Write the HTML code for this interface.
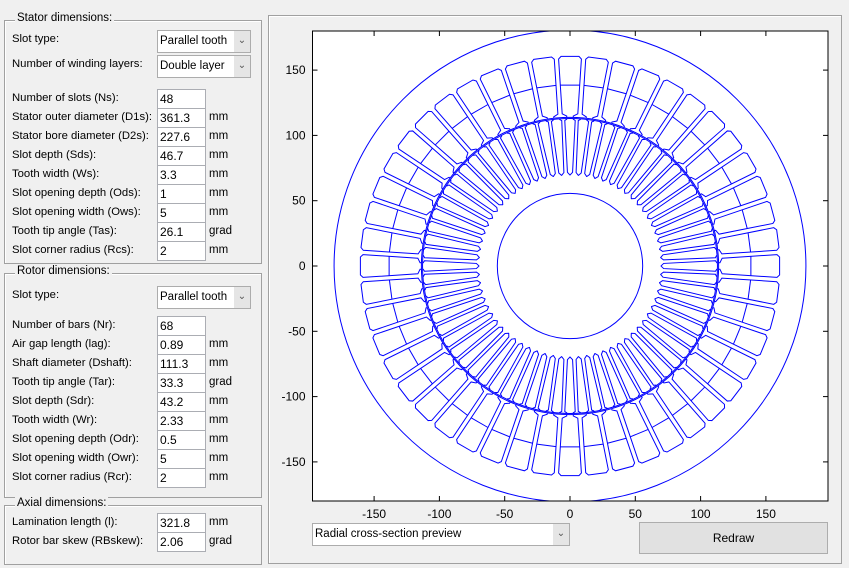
<!DOCTYPE html>
<html><head><meta charset="utf-8"><style>
body{margin:0;width:849px;height:568px;background:#f0f0f0;font-family:"Liberation Sans",sans-serif;font-size:12px;color:#000;position:relative;overflow:hidden}
.grp{position:absolute;border:1px solid #a0a0a0;box-shadow:1px 1px 0 #fff inset}
.gt{position:absolute;background:#f0f0f0;padding:0 2px;font-size:11.5px}
.lb{position:absolute;left:12px;white-space:nowrap;font-size:11.3px}
.ed{position:absolute;left:157px;width:45px;height:18px;background:#fff;border:1px solid #abadb3;box-sizing:content-box;padding-left:2px;line-height:18px;font-size:12px}
.un{position:absolute;left:209px;font-size:11.5px}
.dd{position:absolute;background:#fff;border:1px solid #acacac;line-height:20px;padding-left:2px;font-size:11.5px}
.dd .ar{position:absolute;right:0;top:0;width:16px;height:100%;background:#e5e5e5;text-align:center;color:#555;font-size:10px}
</style></head><body>
<svg id="plot" width="849" height="568" style="position:absolute;left:0;top:0"></svg>
<div class="grp" style="left:4px;top:20px;width:256px;height:242px"></div>
<div class="gt" style="left:15px;top:12px">Stator dimensions:</div>
<div class="grp" style="left:4px;top:273px;width:256px;height:223px"></div>
<div class="gt" style="left:15px;top:265px">Rotor dimensions:</div>
<div class="grp" style="left:4px;top:505px;width:256px;height:58px"></div>
<div class="gt" style="left:15px;top:497px">Axial dimensions:</div>
<div class="grp" style="left:268px;top:15px;width:572px;height:547px"></div>
<div id="form"></div>
<div class="dd" style="left:312px;top:523px;width:254px;height:21px">Radial cross-section preview<span class="ar">&#8964;</span></div>
<div style="position:absolute;left:639px;top:522px;width:187px;height:30px;background:#e1e1e1;border:1px solid #adadad;text-align:center;line-height:30px">Redraw</div>
<script>
const rows=[
["dd","Slot type:","Parallel tooth",30,""],
["dd","Number of winding layers:","Double layer",55,""],
["ed","Number of slots (Ns):","48",89,""],
["ed","Stator outer diameter (D1s):","361.3",108,"mm"],
["ed","Stator bore diameter (D2s):","227.6",127,"mm"],
["ed","Slot depth (Sds):","46.7",146,"mm"],
["ed","Tooth width (Ws):","3.3",165,"mm"],
["ed","Slot opening depth (Ods):","1",184,"mm"],
["ed","Slot opening width (Ows):","5",203,"mm"],
["ed","Tooth tip angle (Tas):","26.1",222,"grad"],
["ed","Slot corner radius (Rcs):","2",241,"mm"],
["dd","Slot type:","Parallel tooth",286,""],
["ed","Number of bars (Nr):","68",316,""],
["ed","Air gap length (lag):","0.89",335,"mm"],
["ed","Shaft diameter (Dshaft):","111.3",354,"mm"],
["ed","Tooth tip angle (Tar):","33.3",373,"grad"],
["ed","Slot depth (Sdr):","43.2",392,"mm"],
["ed","Tooth width (Wr):","2.33",411,"mm"],
["ed","Slot opening depth (Odr):","0.5",430,"mm"],
["ed","Slot opening width (Owr):","5",449,"mm"],
["ed","Slot corner radius (Rcr):","2",468,"mm"],
["ed","Lamination length (l):","321.8",513,"mm"],
["ed","Rotor bar skew (RBskew):","2.06",532,"grad"]];
const f=document.getElementById('form');
rows.forEach((r,i)=>{
 const l=document.createElement('div');l.className='lb';l.style.top=(r[3]+3)+'px';l.textContent=r[1];
 
 f.appendChild(l);
 const e=document.createElement('div');
 if(r[0]=='dd'){e.className='dd';e.style.left='157px';e.style.top=r[3]+'px';e.style.width='90px';e.style.height='21px';e.innerHTML=r[2]+'<span class="ar">&#8964;</span>';}
 else{e.className='ed';e.style.top=r[3]+'px';e.textContent=r[2];
  if(r[4]){const u=document.createElement('div');u.className='un';u.style.top=(r[3]+3)+'px';u.textContent=r[4];
  
  f.appendChild(u);}}
 
 
 f.appendChild(e);
});
const statorParams=[48,361.3,227.6,46.7,3.3,1,5,26.1];
const rotorParams=[68,0.89,111.3,33.3,43.2,2.33,0.5,5];
const xTicks=[-150,-100,-50,0,50,100,150];
const yTicks=[-150,-100,-50,0,50,100,150];
const X0=312.5,X1=828,Y0=31,Y1=501,cx=570,cy=266,sc=1.306;
const sx=v=>cx+v*sc, sy=v=>cy-v*sc;
const svg=document.getElementById('plot');const NS='http://www.w3.org/2000/svg';
function add(tag,at,name,parent){const e=document.createElementNS(NS,tag);for(const k in at)e.setAttribute(k,at[k]);
 
 (parent||svg).appendChild(e);return e;}
const defs=add('defs',{},'defs');
const cp=add('clipPath',{id:'ax'},'axes-clip',defs);
add('rect',{x:X0,y:Y0,width:X1-X0,height:Y1-Y0},'axes-clip-rect',cp);
add('rect',{x:X0,y:Y0,width:X1-X0,height:Y1-Y0,fill:'#fff',stroke:'none'},'plot-area');
const g=add('g',{fill:'none',stroke:'#0000ff','stroke-width':1,'clip-path':'url(#ax)'},'geometry');
function pl(pts,ang){const c=Math.cos(ang),s=Math.sin(ang);
 return pts.map(p=>{const x=p[0]*c-p[1]*s,y=p[0]*s+p[1]*c;return sx(x).toFixed(2)+','+sy(y).toFixed(2)}).join(' ');}
function poly(pts,ang,name){const e=document.createElementNS(NS,'polyline');e.setAttribute('points',pl(pts,ang));
 
 g.appendChild(e);}
function circ(r,name){const e=document.createElementNS(NS,'circle');e.setAttribute('cx',cx);e.setAttribute('cy',cy);e.setAttribute('r',r*sc);
 
 g.appendChild(e);}
{const [N,D1,D2,dep,w,od,ow,tta]=statorParams;const rb=D2/2,rt=rb+dep,a=Math.PI/N;
 const hw=x=>x*Math.tan(a)-w/(2*Math.cos(a));
 circ(D1/2,'stator-outer-circle');circ(rb,'stator-bore-circle');
 const x0=rb+od,h0=ow/2;let x1=x0+(hw(x0+1.7)-h0)*Math.tan(tta*Math.PI/180);
 const h1=hw(x1),ht=hw(rt),rc=2;
 const half=[[rb,h0],[x0,h0],[x1,h1],[rt-rc,ht-rc*Math.tan(a)],[rt,ht-rc]];
 const pts=half.concat(half.slice().reverse().map(p=>[p[0],-p[1]]));
 const xm=(x1+rt)/2;
 for(let k=0;k<N;k++){const ang=Math.PI/2+2*a*k;poly(pts,ang,'stator-slot');poly([[xm,hw(xm)],[xm,-hw(xm)]],ang,'winding-layer-divider');}}
{const [N,gap,Dsh,tta,dep,w,od,ow]=rotorParams;const ro=statorParams[2]/2-gap,rbtm=ro-dep,a=Math.PI/N;
 const hw=x=>x*Math.tan(a)-w/(2*Math.cos(a));
 circ(ro,'rotor-outer-circle');circ(Dsh/2,'shaft-circle');
 const x0=ro-od,h0=ow/2;let x1=x0-(hw(x0-1)-h0)*Math.tan(tta*Math.PI/180);
 const h1=Math.max(hw(x1),h0),hb=hw(rbtm),rc=Math.min(2,hb);
 const half=[[ro,h0],[x0,h0],[x1,h1],[rbtm+rc,hb-rc*Math.tan(a)],[rbtm,hb-rc]];
 const pts=half.concat(half.slice().reverse().map(p=>[p[0],-p[1]]));
 for(let k=0;k<N;k++){poly(pts,Math.PI/2+2*a*k,'rotor-bar-slot');}}
add('rect',{x:X0,y:Y0,width:X1-X0,height:Y1-Y0,fill:'none',stroke:'#000','stroke-width':1},'axes-box');
xTicks.forEach(t=>{const x=sx(t);
 add('line',{x1:x,x2:x,y1:Y1,y2:Y1-5,stroke:'#000'},'x-tick');
 add('line',{x1:x,x2:x,y1:Y0,y2:Y0+5,stroke:'#000'},'x-tick-top');
 const tx=add('text',{x:x,y:Y1+17,'text-anchor':'middle','font-size':12,'font-family':'Liberation Sans'},'x-tick-label');tx.textContent=t;});
yTicks.forEach(t=>{const y=sy(t);
 add('line',{x1:X0,x2:X0+5,y1:y,y2:y,stroke:'#000'},'y-tick');
 add('line',{x1:X1,x2:X1-5,y1:y,y2:y,stroke:'#000'},'y-tick-right');
 const tx=add('text',{x:X0-7,y:y+4,'text-anchor':'end','font-size':12,'font-family':'Liberation Sans'},'y-tick-label');tx.textContent=t;});
</script>
</body></html>
